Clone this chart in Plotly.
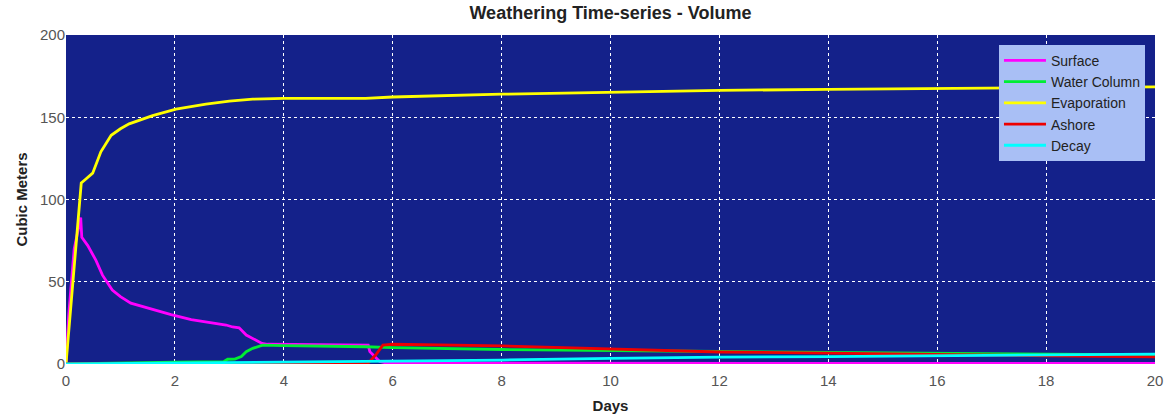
import plotly.graph_objects as go

# ---- data ----
surface_x = [0, 0.05, 0.15, 0.24, 0.27, 0.29, 0.4, 0.55, 0.67, 0.85, 1.0, 1.19, 1.5, 1.93, 2.3, 2.69, 2.94, 3.06, 3.18, 3.31, 3.43, 3.6, 3.7, 4.5, 5.55, 5.58, 5.76, 5.9, 8, 12, 16, 20]
surface_y = [0, 30, 70, 86, 89, 77, 72, 63, 54, 45, 41, 37, 34, 30, 27, 25, 23.7, 22.5, 22, 17.6, 15.6, 12.5, 12.0, 11.8, 11.5, 7.5, 1.5, 0.5, 0.4, 0.3, 0.3, 0.3]

water_x = [0, 1, 2, 2.9, 2.97, 3.1, 3.22, 3.31, 3.43, 3.61, 4, 5.5, 6, 8, 10, 12, 14, 16, 18, 20]
water_y = [0, 0.8, 1.2, 1.5, 2.9, 3.0, 4.5, 7.5, 9.5, 11.5, 11.2, 10.5, 10.0, 8.8, 8.0, 7.6, 7.1, 6.5, 5.9, 5.5]

evap_x = [0, 0.26, 0.28, 0.35, 0.49, 0.64, 0.83, 1.0, 1.16, 1.59, 2.02, 2.57, 3.0, 3.43, 4.0, 5.5, 6, 8, 10, 12, 14, 16, 18, 20]
evap_y = [0, 107, 110, 112, 116, 129, 139, 143, 146, 151, 155, 158, 159.8, 161, 161.5, 161.5, 162.3, 164, 165.3, 166.3, 167, 167.6, 168.1, 168.5]

ashore_x = [0, 5.5, 5.55, 5.7, 5.82, 6, 8, 10, 12, 14, 16, 18, 20]
ashore_y = [0, 0, 0.5, 6, 11.5, 12, 11, 9, 7.3, 6.6, 6.0, 5.0, 4.3]

decay_x = [0, 2, 4, 6, 8, 10, 12, 14, 16, 18, 20]
decay_y = [0, 0.5, 1.2, 1.6, 2.4, 3.4, 4.2, 4.5, 5.0, 5.5, 6.0]

series = [
    ("Surface", surface_x, surface_y, "#FF00FF"),
    ("Water Column", water_x, water_y, "#00EE33"),
    ("Evaporation", evap_x, evap_y, "#FFFF00"),
    ("Ashore", ashore_x, ashore_y, "#EE0000"),
    ("Decay", decay_x, decay_y, "#00FFFF"),
]

x_ticks = list(range(0, 21, 2))
y_ticks = [0, 50, 100, 150, 200]

FONT = "Liberation Sans, Arial, sans-serif"

fig = go.Figure()
for name, xs, ys, col in series:
    fig.add_trace(go.Scatter(x=xs, y=ys, mode="lines", name=name,
                             line=dict(color=col, width=2.8)))

fig.update_layout(
    width=1169, height=414,
    margin=dict(l=66, r=14, t=35, b=50, autoexpand=False),
    paper_bgcolor="white",
    plot_bgcolor="#14218A",
    font=dict(family=FONT, size=15, color="#555555"),
    title=dict(text="<b>Weathering Time-series - Volume</b>", x=0.5, xref="paper",
               y=0.97, yref="container", xanchor="center", yanchor="middle",
               font=dict(family=FONT, size=18, color="#222222")),
    legend=dict(x=0.9908, xanchor="right", y=0.97, yanchor="top",
                bgcolor="#A9BFF5", bordercolor="#A9BFF5", borderwidth=0,
                font=dict(family=FONT, size=14, color="#222222"),
                tracegroupgap=0, itemwidth=42),
    showlegend=True,
)
fig.update_xaxes(range=[0, 20], tickvals=x_ticks, ticktext=[str(v) for v in x_ticks],
                 showgrid=True, gridcolor="white", griddash="dot", gridwidth=1,
                 zeroline=False, showline=False, ticks="", automargin=False,
                 ticklabelstandoff=6,
                 title=dict(text="<b>Days</b>", standoff=14,
                            font=dict(family=FONT, size=15, color="#222222")))
fig.update_yaxes(range=[0, 200], tickvals=y_ticks, ticktext=[str(v) for v in y_ticks],
                 showgrid=True, gridcolor="white", griddash="dot", gridwidth=1,
                 zeroline=False, showline=False, ticks="", automargin=False,
                 title=dict(text="<b>Cubic Meters</b>", standoff=8,
                            font=dict(family=FONT, size=15, color="#222222")))

fig.write_html("out.html", config={"displayModeBar": False},
               post_script="document.body.style.margin='0';")
